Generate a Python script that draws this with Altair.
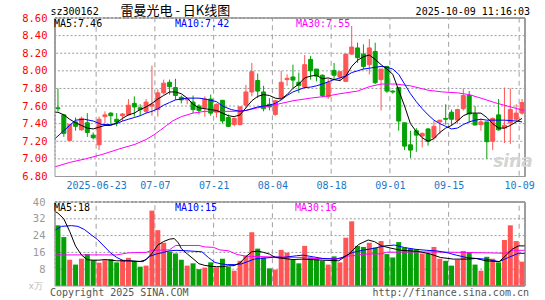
import altair as alt
import pandas as pd

# ---------------- data ----------------
opens = [7.58, 7.50, 7.21, 7.42, 7.33, 7.41, 7.27, 7.16, 7.48, 7.52,
         7.45, 7.49, 7.50, 7.63, 7.58, 7.54, 7.60, 7.56, 7.75, 7.87,
         7.81, 7.70, 7.67, 7.645, 7.60, 7.58, 7.68, 7.53, 7.665, 7.47,
         7.39, 7.39, 7.61, 7.76, 7.89, 7.76, 7.62, 7.505, 7.69, 7.90,
         7.93, 7.87, 7.815, 8.13, 8.02, 7.95, 7.705, 8.005, 7.93, 7.88,
         8.19, 8.26, 8.19, 8.07, 8.22, 7.90, 8.05, 7.77, 7.81, 7.41,
         7.16, 7.32, 7.26, 7.34, 7.24, 7.42, 7.46, 7.53, 7.44, 7.57,
         7.72, 7.51, 7.39, 7.42, 7.20, 7.50, 7.35, 7.41, 7.45, 7.52]
closes = [7.57, 7.29, 7.39, 7.37, 7.46, 7.30, 7.24, 7.45, 7.50, 7.49,
          7.42, 7.51, 7.61, 7.59, 7.56, 7.645, 7.62, 7.75, 7.86, 7.82,
          7.72, 7.67, 7.68, 7.56, 7.55, 7.68, 7.52, 7.62, 7.43, 7.37,
          7.46, 7.59, 7.76, 7.99, 7.77, 7.57, 7.59, 7.66, 7.87, 7.915,
          7.895, 7.835, 8.07, 8.00, 7.94, 7.72, 7.865, 7.95, 7.99, 8.19,
          8.27, 8.15, 8.05, 8.26, 7.865, 8.02, 7.77, 7.76, 7.43, 7.145,
          7.10, 7.27, 7.29, 7.20, 7.37, 7.44, 7.45, 7.45, 7.56, 7.72,
          7.51, 7.385, 7.42, 7.195, 7.46, 7.33, 7.38, 7.56, 7.52, 7.64]
highs = [7.80, 7.51, 7.40, 7.47, 7.48, 7.52, 7.30, 7.48, 7.54, 7.53,
         7.52, 7.52, 7.68, 7.71, 7.62, 7.68, 8.06, 7.79, 7.90, 7.90,
         7.91, 7.72, 7.69, 7.72, 7.62, 7.71, 7.73, 7.63, 7.67, 7.505,
         7.47, 7.60, 7.84, 8.09, 7.97, 7.83, 7.69, 7.67, 8.00, 7.96,
         8.07, 7.98, 8.18, 8.17, 8.02, 7.96, 7.91, 8.09, 8.00, 8.19,
         8.51, 8.32, 8.30, 8.36, 8.32, 8.02, 8.05, 7.78, 7.81, 7.41,
         7.32, 7.35, 7.30, 7.35, 7.43, 7.44, 7.62, 7.56, 7.57, 7.80,
         7.77, 7.60, 7.46, 7.42, 7.47, 7.68, 7.81, 7.80, 7.62, 7.68]
lows = [7.54, 7.25, 7.20, 7.32, 7.32, 7.25, 7.22, 7.10, 7.40, 7.40,
        7.37, 7.43, 7.49, 7.48, 7.49, 7.52, 7.49, 7.48, 7.73, 7.73,
        7.67, 7.63, 7.62, 7.52, 7.505, 7.48, 7.49, 7.47, 7.40, 7.36,
        7.37, 7.38, 7.58, 7.71, 7.69, 7.54, 7.55, 7.49, 7.67, 7.83,
        7.80, 7.75, 7.80, 7.90, 7.88, 7.70, 7.68, 7.90, 7.88, 7.87,
        8.18, 8.09, 8.02, 7.96, 7.85, 7.55, 7.75, 7.74, 7.32, 7.10,
        7.01, 7.08, 7.13, 7.15, 7.22, 7.28, 7.39, 7.38, 7.40, 7.55,
        7.41, 7.38, 7.32, 7.00, 7.10, 7.32, 7.18, 7.17, 7.43, 7.50]
volumes = [28.9, 23.3, 12.5, 10.2, 13.0, 15.2, 12.3, 11.1, 12.3, 12.8,
           11.25, 12.5, 13.4, 12.0, 9.2, 9.7, 35.9, 26.6, 20.6, 16.4,
           15.5, 12.5, 9.7, 10.8, 8.0, 8.75, 11.25, 8.9, 13.0, 9.2,
           7.3, 12.0, 14.4, 25.6, 17.8, 13.6, 8.4, 7.8, 17.2, 15.9,
           12.5, 10.8, 19.1, 13.6, 12.8, 12.0, 10.2, 14.1, 11.25, 23.0,
           30.8, 19.1, 18.6, 20.6, 18.3, 21.4, 15.2, 13.6, 20.9, 18.3,
           17.8, 17.5, 15.5, 15.5, 18.6, 13.0, 12.0, 9.7, 12.5, 16.7,
           15.9, 10.2, 7.3, 13.9, 13.0, 11.25, 21.9, 28.9, 21.4, 11.6]

tick_idx = [7, 17, 27, 37, 47, 57, 67, 79]
tick_labels = ["2025-06-23", "07-07", "07-21", "08-04", "08-18", "09-01", "09-15", "10-09"]
price_ticks = [6.8, 7.0, 7.2, 7.4, 7.6, 7.8, 8.0, 8.2, 8.4, 8.6]
vol_ticks = [8, 16, 24, 32, 40]

ma5_pos = [-0.5, 0, 1, 2, 3, 4, 5, 6, 7, 8, 9, 10, 11, 12, 13, 14, 15, 16, 17, 18,
           19, 20, 21, 22, 23, 24, 25, 26, 27, 28, 29, 30, 31, 32, 33, 34, 35, 36, 37, 38,
           39, 40, 41, 42, 43, 44, 45, 46, 47, 48, 49, 50, 51, 52, 53, 54, 55, 56, 57, 58,
           59, 60, 61, 62, 63, 64, 65, 66, 67, 68, 69, 70, 71, 72, 73, 74, 75, 76, 77, 78, 79]
ma5_val = [7.53, 7.53, 7.50, 7.45, 7.41, 7.38, 7.35, 7.34, 7.36, 7.38,
           7.38, 7.41, 7.46, 7.50, 7.52, 7.56, 7.59, 7.63, 7.68, 7.72,
           7.76, 7.76, 7.74, 7.69, 7.62, 7.58, 7.57, 7.56, 7.55, 7.52,
           7.49, 7.48, 7.50, 7.58, 7.66, 7.71, 7.73, 7.72, 7.69, 7.68,
           7.73, 7.80, 7.85, 7.92, 7.94, 7.95, 7.91, 7.92, 7.90, 7.89,
           7.94, 8.05, 8.12, 8.16, 8.18, 8.13, 8.07, 8.02, 7.96, 7.78,
           7.60, 7.40, 7.31, 7.24, 7.20, 7.23, 7.30, 7.35, 7.38, 7.43,
           7.49, 7.52, 7.52, 7.52, 7.47, 7.40, 7.35, 7.35, 7.38, 7.42, 7.46]
ma10_pos = [-0.5, 1, 2, 3, 4.5, 6, 7.5, 9, 10, 11, 12, 13, 14, 15, 16, 17, 18, 19, 20, 22,
            24, 25, 27, 28, 29.5, 31, 32, 33, 34, 36, 37, 38, 39, 40, 41, 42, 43, 44, 45, 46,
            47, 48, 49, 50, 51, 52, 53, 54, 55, 56, 57, 58, 59, 60, 61, 62, 63, 64, 65, 66,
            67, 68, 69, 70, 71, 72, 73, 74, 76, 78, 79]
ma10_val = [7.23, 7.32, 7.38, 7.44, 7.45, 7.43, 7.39, 7.39, 7.40, 7.43,
            7.45, 7.47, 7.49, 7.52, 7.54, 7.57, 7.61, 7.64, 7.67, 7.69,
            7.69, 7.68, 7.65, 7.60, 7.56, 7.54, 7.55, 7.57, 7.59, 7.61,
            7.63, 7.67, 7.72, 7.76, 7.785, 7.81, 7.815, 7.83, 7.85, 7.875,
            7.90, 7.92, 7.94, 7.98, 8.00, 8.02, 8.03, 8.04, 8.05, 8.04,
            8.02, 7.96, 7.85, 7.74, 7.65, 7.57, 7.50, 7.44, 7.40, 7.37,
            7.34, 7.35, 7.39, 7.42, 7.44, 7.45, 7.44, 7.44, 7.44, 7.43, 7.42]
ma30_pos = [-0.5, 2, 4.7, 7.5, 10.3, 13.1, 15, 16.5, 17.5, 18.5,
            19.5, 21, 23, 25, 30, 32, 34, 36, 38, 40,
            43, 45.5, 48, 51, 53, 55, 57.5, 60, 63, 65.5,
            68, 70, 72, 74.3, 76.5, 78.7, 79.5]
ma30_val = [6.91, 6.96, 7.00, 7.05, 7.11, 7.165, 7.22, 7.28, 7.33, 7.38,
            7.43, 7.48, 7.52, 7.54, 7.54, 7.55, 7.58, 7.60, 7.63, 7.66,
            7.69, 7.71, 7.74, 7.77, 7.82, 7.85, 7.85, 7.83, 7.78, 7.76,
            7.75, 7.73, 7.69, 7.64, 7.60, 7.56, 7.55]

vma5_pos = [-0.5, 0, 1, 2, 3, 4, 5, 6, 7, 8, 9, 10, 12, 13, 14, 15, 16, 17, 18, 19,
            19.8, 20.5, 21, 22, 23, 24, 25, 26, 27, 28, 29, 30, 31, 32, 33, 34, 35, 36, 37, 38.4,
            40, 41.7, 43, 45, 47.8, 49.5, 51.2, 52.8, 53.9, 55.1, 56.7, 58.4, 60.1, 61.7, 63.4,
            65.1, 67.3, 69.5, 71.2, 72.8, 75.1, 76.2, 77.3, 78.4, 79.5]
vma5_val = [35.5, 34.7, 32, 26, 19, 14.8, 12.5, 12.3, 12.3, 12.6,
            12.3, 12.0, 12.0, 11.8, 11.7, 12.5, 15.5, 19.5, 21.2, 22.3,
            22.6, 20.5, 17.8, 15.3, 13.0, 10.6, 9.8, 9.4, 9.2, 9.2,
            9.6, 9.7, 11.0, 14.0, 16.3, 16.6, 16.0, 15.2, 13.6, 13.1,
            12.6, 12.8, 12.6, 12.3, 12.0, 15.2, 19.8, 21.9, 21.1, 19.1,
            18.0, 17.0, 16.7, 16.3, 15.2, 13.6, 12.8, 12.8, 13.1, 12.0,
            11.6, 14.4, 17.5, 19.1, 19.1]
vma10_pos = [-0.5, 0.6, 2.3, 3.4, 4.5, 5.6, 6.7, 7.8, 8.9, 10,
             11.2, 12.3, 13.4, 14.5, 15.6, 16.7, 17.8, 18.9, 20.1, 22.3,
             24.5, 25.6, 26.7, 27.8, 28.9, 30, 31.2, 32.3, 33.4, 34.5,
             35.6, 37, 38.4, 40.6, 41.7, 43.4, 45.1, 47.3, 48.4, 50.1,
             51.8, 53.9, 55.6, 57.3, 59, 60.8, 62.8, 64.5, 66.2, 67.8,
             69.5, 71.2, 72.8, 75.1, 76.7, 78.4, 79.5]
vma10_val = [26.6, 28.4, 28.75, 28.4, 26.9, 24.5, 22.2, 19.1, 15.9, 13.6,
             12.0, 12.0, 11.7, 11.6, 14.1, 15.2, 15.9, 16.7, 17.0, 16.7,
             16.3, 13.6, 11.25, 10.5, 10.2, 10.2, 10.5, 11.6, 12.8, 13.1,
             13.4, 13.8, 13.6, 14.4, 14.7, 13.9, 13.1, 12.8, 13.6, 15.9,
             17.0, 18.0, 19.1, 19.5, 18.3, 17.5, 17.0, 16.7, 15.9, 14.7,
             13.6, 13.1, 12.8, 11.6, 13.6, 15.6, 15.5]
vma30_pos = [-0.5, 10, 12, 15, 16, 19, 20, 24, 25, 26.5,
             27.5, 29, 30.5, 32, 37, 41.7, 43, 48, 49, 51,
             52, 55, 56, 64, 71, 76, 77.5, 79.5]
vma30_val = [14.8, 14.8, 15.8, 16.0, 17.0, 17.2, 19.3, 19.3, 18.6, 18.4,
             17.2, 16.8, 15.0, 14.2, 13.8, 13.6, 13.1, 13.0, 14.2, 14.6,
             15.2, 15.3, 16.1, 16.2, 15.9, 15.6, 17.0, 17.0]

# ---------------- styling / layout ----------------
MONO = "DejaVu Sans Mono"
RED = "#ff5555"
GREEN = "#05a005"
HGRID = "#9a9a9a"
VGRID = "#a0a0a0"
FRAME = "#999999"

W, H = 480, 268
N_SLOTS = 80
P_TOP, P_BOT = 8.6, 6.8
PRICE_PX = 158.5 / (P_TOP - P_BOT)
V_TOP = 40
VOL_PX = 84 / V_TOP
price_min = P_TOP - H / PRICE_PX
vol_max = H / VOL_PX
date_axis_offset = -(H - (P_TOP - P_BOT) * PRICE_PX)

xs = alt.Scale(domain=[0, N_SLOTS], nice=False, zero=False)
yp = alt.Scale(domain=[price_min, P_TOP], nice=False, zero=False)
yv = alt.Scale(domain=[0, vol_max], nice=False, zero=False)
dir_scale = alt.Scale(domain=["up", "down"], range=[RED, GREEN])

label_expr = "''"
for v, l in reversed(list(zip(tick_idx, tick_labels))):
    label_expr = f"datum.value == {v} ? '{l}' : ({label_expr})"

x_axis = alt.Axis(values=tick_idx, labelExpr=label_expr, orient="bottom",
                  offset=date_axis_offset, domain=False, ticks=False,
                  grid=False, labelFont=MONO, labelFontSize=10, labelColor="#1a78c8",
                  labelPadding=4, labelFlush=10, labelOverlap=False, title=None)
price_axis = alt.Axis(values=price_ticks, format=".2f", orient="left", domain=False,
                      ticks=False, grid=False,
                      labelColor="#ff0000", labelFont=MONO, labelFontSize=10.5,
                      labelPadding=3, labelOverlap=False, title=None)
vol_axis = alt.Axis(values=vol_ticks, format="d", orient="left", domain=False,
                    ticks=False, grid=False,
                    labelColor="#999999", labelFont=MONO, labelFontSize=10.5,
                    labelPadding=5, labelOverlap=False, title=None)

candles = pd.DataFrame({"idx": list(range(len(opens))), "open": opens, "close": closes,
                        "high": highs, "low": lows, "vol": volumes})
base = alt.Chart(candles).transform_calculate(
    xc="datum.idx + 0.5",
    dir="datum.close >= datum.open ? 'up' : 'down'")


def xq(field):
    return alt.X(field, type="quantitative", scale=xs, axis=x_axis)


def box(x0, x1, y0, y1, yscale, stroke, dash=None, axis=None):
    """One outline rectangle from a one-row table (same pattern as the panel frames)."""
    mark = dict(fillOpacity=0, stroke=stroke, strokeWidth=1)
    if dash:
        mark["strokeDash"] = dash
    return alt.Chart(pd.DataFrame({"k": [0]})).transform_calculate(
        bx0=str(x0), bx1=str(x1), by0=str(y0), by1=str(y1)).mark_rect(**mark).encode(
        x=xq("bx0:Q"), x2="bx1:Q",
        y=alt.Y("by0:Q", scale=yscale, axis=axis), y2="by1:Q")


# ---- gridlines: each is the free edge of an outline box whose other edges lie on the frame ----
grid_layers = []
for k, p in enumerate(price_ticks[1:-1]):
    grid_layers.append(box(0, N_SLOTS, p, P_TOP, yp, HGRID, [2, 2],
                           axis=price_axis if k == 0 else None))
for t in tick_idx:
    grid_layers.append(box(t, N_SLOTS, P_BOT, P_TOP, yp, VGRID, [5, 4]))
for k, v in enumerate(vol_ticks[:-1]):
    grid_layers.append(box(0, N_SLOTS, v, V_TOP, yv, HGRID, [2, 2],
                           axis=vol_axis if k == 0 else None))
for t in tick_idx:
    grid_layers.append(box(t, N_SLOTS, 0, V_TOP, yv, VGRID, [5, 4]))

# ---- candles ----
wicks = base.mark_rule(strokeWidth=1).encode(
    x=xq("xc:Q"), y=alt.Y("low:Q", scale=yp, axis=None), y2="high:Q",
    color=alt.Color("dir:N", scale=dir_scale, legend=None))

bodies = base.mark_bar(size=4, strokeWidth=1).encode(
    x=xq("xc:Q"), y=alt.Y("open:Q", scale=yp, axis=None), y2="close:Q",
    color=alt.Color("dir:N", scale=dir_scale, legend=None),
    stroke=alt.Stroke("dir:N", scale=dir_scale, legend=None))


def ma_line(pos, val, color, yscale):
    df = pd.DataFrame({"pos": pos, "val": val})
    return alt.Chart(df).transform_calculate(xp="datum.pos + 0.5").mark_line(
        color=color, strokeWidth=1).encode(
        x=xq("xp:Q"), y=alt.Y("val:Q", scale=yscale, axis=None), order="xp:Q")


p_frame = box(0, N_SLOTS, P_BOT, P_TOP, yp, FRAME)

vbars = base.mark_bar(size=5).encode(
    x=xq("xc:Q"), y=alt.Y("vol:Q", scale=yv, axis=None, stack=None),
    color=alt.Color("dir:N", scale=dir_scale, legend=None))

v_frame = box(0, N_SLOTS, 0, V_TOP, yv, FRAME)


# ---- texts ----
def label(text, x, y, color="#000000", size=10, align="left", font=MONO, **kw):
    return alt.Chart(pd.DataFrame({"txt": [text]})).mark_text(
        align=align, baseline="alphabetic", font=font, fontSize=size, color=color, **kw
    ).encode(text="txt:N", x=alt.value(x), y=alt.value(y))


texts = [
    label("sz300162", 0.5, -3),
    label("雷曼光电 - 日K线图", 70.5, -3.5, font="Noto Sans CJK SC", size=13),
    label("2025-10-09 11:16:03", 480, -3, align="right"),
    label("MA5:7.46", 4, 9),
    label("MA10:7.42", 125, 9, color="#0000ff"),
    label("MA30:7.55", 246, 9, color="#ff00ff"),
    label("MA5:18", 4, 192.5),
    label("MA10:15", 125, 192.5, color="#0000ff"),
    label("MA30:16", 245, 192.5, color="#ff00ff"),
    label("Copyright 2025 SINA.COM", 0, 278, color="#555555"),
    label("http://finance.sina.com.cn", 479, 278, color="#555555", align="right"),
    label("x万", -7, 271, color="#bbbbbb", align="right", size=9),
    label("sina", 463, 149, color="#d4d4d4", align="center", size=17,
          font="DejaVu Sans", fontWeight="bold", fontStyle="italic"),
]

layers = grid_layers + [
    wicks, bodies,
    ma_line(ma30_pos, ma30_val, "#ff00ff", yp),
    ma_line(ma10_pos, ma10_val, "#0000ff", yp),
    ma_line(ma5_pos, ma5_val, "#000000", yp),
    p_frame,
    vbars,
    ma_line(vma30_pos, vma30_val, "#ff00ff", yv),
    ma_line(vma10_pos, vma10_val, "#0000ff", yv),
    ma_line(vma5_pos, vma5_val, "#000000", yv),
    v_frame,
] + texts

chart = alt.layer(*layers).resolve_scale(y="independent").properties(
    width=W, height=H,
    autosize=alt.AutoSizeParams(type="none"),
    padding={"left": 50, "top": 18, "right": 15, "bottom": 14},
    background="white",
).configure_view(stroke=None)

chart.save("out.html", embed_options={"renderer": "svg", "actions": False})
